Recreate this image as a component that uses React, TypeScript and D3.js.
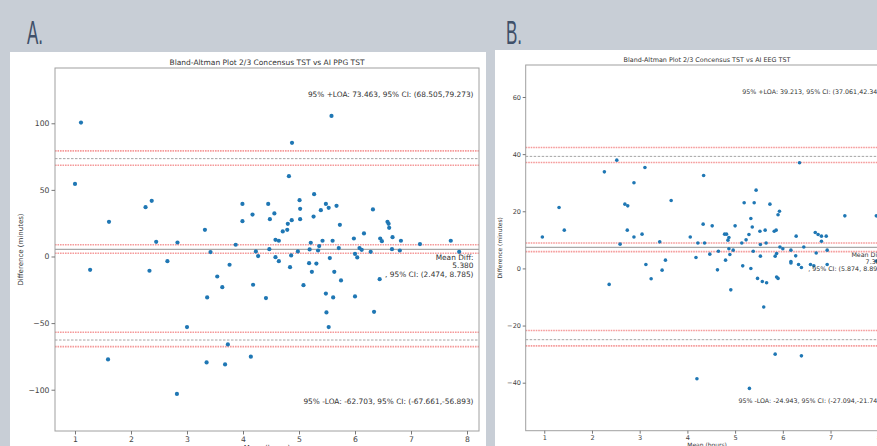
import { useEffect, useRef } from 'react';
import * as d3 from 'd3';

// Panel A: mean (hours) vs difference (minutes), consensus vs AI PPG
const A_MEAN = [
  1.0, 1.107, 1.27, 1.607, 1.59, 2.26, 2.37, 2.33, 2.45, 2.65, 2.82, 2.83, 3.0, 3.32, 3.35, 3.36, 3.42,
  3.54, 3.63, 3.68, 3.73, 3.76, 3.87, 3.99, 3.99, 4.14, 4.17, 4.18, 4.23, 4.27, 4.41, 4.45, 4.48, 4.47,
  4.56, 4.58, 4.64, 4.58, 4.64, 4.71, 4.79, 4.8, 4.82, 4.87, 4.84, 4.86, 4.875, 4.98, 5.01, 5.02, 5.02,
  5.08, 5.18, 5.19, 5.21, 5.23, 5.26, 5.27, 5.31, 5.34, 5.36, 5.39, 5.42, 5.48, 5.48, 5.49, 5.53, 5.53,
  5.55, 5.58, 5.6, 5.61, 5.63, 5.67, 5.71, 5.73, 5.75, 5.98, 6.0, 6.0, 6.04, 6.08, 6.12, 6.16, 6.28,
  6.32, 6.34, 6.44, 6.45, 6.48, 6.58, 6.6, 6.61, 6.67, 6.66, 6.8, 6.82, 7.16, 7.71, 7.86,
];
const A_DIFF = [
  54.5, 100.5, -10, 26, -77.3, 37, 41.8, -10.7, 11, -3.5, -103.2, 10.5, -53, 20, -79.5, -30.7, 3.3,
  -15, -23, -81, -66, -6.2, 8.8, 39.5, 26.5, -75.2, 31.5, -21.2, 3.8, 0.3, -31.2, 39.5, 28, 5.5,
  32.3, 12.5, 11.8, -0.5, -3.5, 18.8, 20, 24.5, 60.3, 27.3, -8, 0.8, 85.3, 3.8, 42.3, 35.8, 28,
  -21.5, -5, 5.3, 10.3, -11.5, 30, 46.8, -5.3, 4.5, 7.8, 34.8, 11.8, -27.8, 39.5, -42, 36.5, -53,
  -1.2, 105.5, 11.8, -30.7, -11.5, 38, 6.3, 23.8, -18, 13.5, 2, -30, -0.7, 6.3, 5, 17.3, 3.5,
  35.3, -41.5, -17, 13.5, 11.5, 26, 24.5, 21.5, 14.5, 5.5, 4.5, 11.8, 9.3, 11.8, 3.5,
];
// [ci low, value, ci high]
const A_LOA_UP = [68.505, 73.463, 79.273];
const A_MEAN_DIFF = [2.474, 5.38, 8.785];
const A_LOA_LOW = [-67.661, -62.703, -56.893];

// Panel B: consensus vs AI EEG
const B_MEAN = [
  0.96, 1.31, 1.42, 2.26, 2.36, 2.52, 2.59, 2.69, 2.75, 2.74, 2.88, 2.88, 3.05, 3.11, 3.13, 3.24, 3.42,
  3.47, 3.54, 3.66, 4.06, 4.18, 4.2, 4.22, 4.33, 4.34, 4.36, 4.47, 4.52, 4.63, 4.65, 4.78, 4.82, 4.85,
  4.87, 4.87, 4.8, 4.89, 4.91, 4.96, 5.0, 5.14, 5.16, 5.19, 5.23, 5.29, 5.3, 5.33, 5.33, 5.36, 5.38,
  5.4, 5.44, 5.47, 5.52, 5.53, 5.53, 5.57, 5.6, 5.63, 5.65, 5.66, 5.73, 5.82, 5.84, 5.84, 5.86, 5.87,
  5.87, 5.9, 5.9, 5.93, 5.94, 6.0, 6.17, 6.17, 6.17, 6.27, 6.28, 6.33, 6.35, 6.39, 6.39, 6.44, 6.58,
  6.65, 6.68, 6.7, 6.74, 6.81, 6.81, 6.91, 6.93, 6.93, 7.3, 7.96, 7.96,
];
const B_DIFF = [
  11, 21.3, 13.4, 33.8, -5.6, 37.9, 8.5, 22.5, 21.9, 13.4, 30, 11, 12, 35.3, 1.4, -3.6, 9.3,
  -0.6, 2.9, 23.8, 11, 3.8, -38.6, 8.9, 15.5, 32.5, 8.9, 5, 14.9, -0.5, 6, 12, 12, 9.9,
  10.8, 6.9, 2.9, 4.9, -7.5, 6.4, 14.9, 8.9, 0.9, 23, 10, 11.9, -42, 17.5, 0, 14.5, 6,
  23, 27.4, -3.5, 13, 8.4, 4.3, -4.6, -13.5, 13.4, 8.9, -5, 22.5, 13, 4.3, -30, 13.4, 5.2,
  -3, -3.5, 18.8, 20, 7.5, 6.9, 6.4, 2.4, 1.9, 4.4, 11.3, 1.4, 37, 0.3, -30.6, 7.5, 1.4,
  0.9, 12.6, 5.4, 11.9, 11.3, 9.5, 11.3, 6.4, 1.4, 18.4, 18.4, 2.6,
];
const B_LOA_UP = [37.061, 39.213, 42.345];
const B_MEAN_DIFF = [5.874, 7.385, 8.896];
const B_LOA_LOW = [-27.094, -24.943, -21.742];

const X_TICKS = [1, 2, 3, 4, 5, 6, 7, 8];
const A_Y_TICKS = [-100, -50, 0, 50, 100];
const B_Y_TICKS = [-40, -20, 0, 20, 40, 60];

const panels = [
  {
    letter: 'A.', letterX: 27, box: [10, 52, 476], plot: [55, 68, 479, 431], s: 1, ylabX: 21,
    xDomain: [0.643, 8.214], yDomain: [-131, 141.5], yTicks: A_Y_TICKS,
    title: 'Bland-Altman Plot 2/3 Concensus TST vs AI PPG TST',
    mean: A_MEAN, diff: A_DIFF, up: A_LOA_UP, md: A_MEAN_DIFF, low: A_LOA_LOW,
  },
  {
    letter: 'B.', letterX: 506, box: [495, 50, 400], plot: [525.7, 65, 888.4, 430.7], s: 0.855, ylabX: 500,
    xDomain: [0.611, 8.213], yDomain: [-56.8, 71.2], yTicks: B_Y_TICKS,
    title: 'Bland-Altman Plot 2/3 Concensus TST vs AI EEG TST',
    mean: B_MEAN, diff: B_DIFF, up: B_LOA_UP, md: B_MEAN_DIFF, low: B_LOA_LOW,
  },
];

// annotations are python-formatted, so plain hyphen minus
const fmt = d3.formatLocale({ decimal: '.', thousands: ',', grouping: [3], currency: ['', ''], minus: '-' }).format('.3f');

export default function App() {
  const svgRef = useRef(null);

  useEffect(() => {
    const svg = d3.select(svgRef.current);
    svg.selectAll('*').remove();

    svg.append('rect').attr('width', 877).attr('height', 446).attr('fill', '#c8ced6');

    panels.forEach((p) => {
      const [l, t, r, b] = p.plot;
      const s = p.s;
      const font = 'DejaVu Sans, sans-serif';

      // big panel letter
      svg.append('text')
        .attr('transform', `translate(${p.letterX},44) scale(0.5,1)`)
        .attr('font-family', 'Liberation Sans, Arial, sans-serif')
        .attr('font-size', 34)
        .attr('fill', '#3f5069')
        .text(p.letter);

      svg.append('rect')
        .attr('x', p.box[0]).attr('y', p.box[1])
        .attr('width', p.box[2]).attr('height', 446 - p.box[1])
        .attr('fill', '#fff');

      const x = d3.scaleLinear().domain(p.xDomain).range([l, r]);
      const y = d3.scaleLinear().domain(p.yDomain).range([b, t]);

      const g = svg.append('g');

      // reference lines: CI bounds dotted red, LOA dashed grey, mean solid grey
      [p.up, p.md, p.low].forEach((st, i) => {
        [st[0], st[2]].forEach((v) => {
          g.append('line')
            .attr('x1', l).attr('x2', r).attr('y1', y(v)).attr('y2', y(v))
            .attr('stroke', '#f59a9a').attr('stroke-width', 1.6)
            .attr('stroke-dasharray', '1.6 0.9');
        });
        g.append('line')
          .attr('x1', l).attr('x2', r).attr('y1', y(st[1])).attr('y2', y(st[1]))
          .attr('stroke', i === 1 ? '#a8a8a8' : '#9a9a9a')
          .attr('stroke-width', i === 1 ? 1.2 : 0.9)
          .attr('stroke-dasharray', i === 1 ? null : '2.5 1.5');
      });

      g.selectAll('circle.pt')
        .data(p.mean.map((m, i) => [m, p.diff[i]]))
        .join('circle')
        .attr('class', 'pt')
        .attr('cx', (d) => x(d[0]))
        .attr('cy', (d) => y(d[1]))
        .attr('r', 2.1 * s)
        .attr('fill', '#1f77b4');

      // frame
      g.append('rect')
        .attr('x', l).attr('y', t).attr('width', r - l).attr('height', b - t)
        .attr('fill', 'none').attr('stroke', '#a0a0a0').attr('stroke-width', 1);

      const xAxis = g.append('g')
        .attr('transform', `translate(0,${b})`)
        .call(d3.axisBottom(x).tickValues(X_TICKS).tickSize(3.5 * s).tickPadding(2 * s).tickFormat(d3.format('d')));
      const yAxis = g.append('g')
        .attr('transform', `translate(${l},0)`)
        .call(d3.axisLeft(y).tickValues(p.yTicks).tickSize(3.5 * s).tickPadding(2 * s).tickFormat(d3.format('d')));
      [xAxis, yAxis].forEach((ax) => {
        ax.select('.domain').remove();
        ax.selectAll('line').attr('stroke', '#777');
        ax.selectAll('text').attr('font-family', font).attr('font-size', 7.7 * s).attr('fill', '#444');
      });

      const txt = (tx, ty, str, anchor, size) =>
        g.append('text')
          .attr('x', tx).attr('y', ty)
          .attr('text-anchor', anchor)
          .attr('dominant-baseline', 'middle')
          .attr('font-family', font)
          .attr('font-size', size)
          .attr('fill', '#333')
          .text(str);

      txt((l + r) / 2, t - 5.5 * s, p.title, 'middle', 7.5 * s);

      const rx = r - 5.5 * s;
      txt(rx, b - 0.925 * (b - t), `95% +LOA: ${fmt(p.up[1])}, 95% CI: (${fmt(p.up[0])},${fmt(p.up[2])})`, 'end', 7.4 * s);
      txt(rx, b - 0.081 * (b - t), `95% -LOA: ${fmt(p.low[1])}, 95% CI: (${fmt(p.low[0])},${fmt(p.low[2])})`, 'end', 7.4 * s);
      const my = y(p.md[1]);
      txt(rx, my + 9 * s, 'Mean Diff:', 'end', 7.4 * s);
      txt(rx, my + 17 * s, fmt(p.md[1]), 'end', 7.4 * s);
      txt(rx, my + 25.5 * s, `, 95% CI: (${fmt(p.md[0])}, ${fmt(p.md[2])})`, 'end', 7.4 * s);

      g.append('text')
        .attr('transform', `translate(${p.ylabX},${(t + b) / 2}) rotate(-90)`)
        .attr('text-anchor', 'middle')
        .attr('dominant-baseline', 'middle')
        .attr('font-family', font)
        .attr('font-size', 7 * s)
        .attr('fill', '#333')
        .text('Difference (minutes)');

      g.append('text')
        .attr('x', (l + r) / 2).attr('y', b + 14 * s)
        .attr('text-anchor', 'middle')
        .attr('dominant-baseline', 'hanging')
        .attr('font-family', font)
        .attr('font-size', 7 * s)
        .attr('fill', '#333')
        .text('Mean (hours)');
    });
  }, []);

  return (
    <div style={{ position: 'absolute', left: 0, top: 0, width: 877, height: 446, overflow: 'hidden' }}>
      <svg ref={svgRef} width={877} height={446} style={{ display: 'block' }}></svg>
    </div>
  );
}
